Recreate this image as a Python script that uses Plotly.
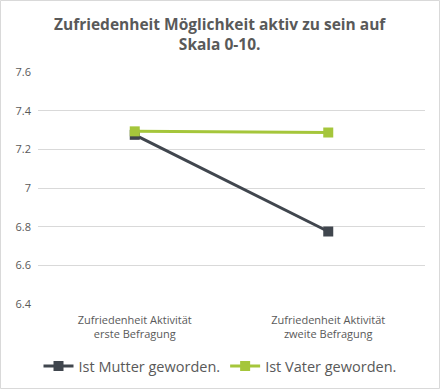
import plotly.graph_objects as go

categories = ["Zufriedenheit Aktivität<br>erste Befragung", "Zufriedenheit Aktivität<br>zweite Befragung"]
mutter = [7.275, 6.775]
vater = [7.293, 7.287]
series_names = ["Ist Mutter geworden.", "Ist Vater geworden."]
y_ticks = [6.4, 6.6, 6.8, 7.0, 7.2, 7.4, 7.6]
y_tick_labels = ["6.4", "6.6", "6.8", "7", "7.2", "7.4", "7.6"]

FONT = "Open Sans"
GREY = "#595959"
C_M = "#40464e"
C_V = "#a5c63b"

fig = go.Figure()
fig.add_trace(go.Scatter(x=categories, y=mutter, name=series_names[0], mode="lines+markers",
                         line=dict(color=C_M, width=3), marker=dict(symbol="square", size=10, color=C_M)))
fig.add_trace(go.Scatter(x=categories, y=vater, name=series_names[1], mode="lines+markers",
                         line=dict(color=C_V, width=3), marker=dict(symbol="square", size=10, color=C_V)))

W, H = 440, 389
L, R, T, B = 38, 15, 72, 85
pw, ph = W - L - R, H - T - B

fig.update_layout(
    width=W, height=H,
    margin=dict(l=L, r=R, t=T, b=B, autoexpand=False),
    paper_bgcolor="white", plot_bgcolor="white",
    font=dict(family=FONT, color=GREY),
    xaxis=dict(type="category", range=[-0.5, 1.5], showgrid=False, showline=False, zeroline=False,
               ticks="", tickfont=dict(size=11, color=GREY), fixedrange=True, ticklabelstandoff=8),
    yaxis=dict(range=[6.4, 7.6], tickvals=y_ticks, ticktext=y_tick_labels, showgrid=True,
               gridcolor="#d9d9d9", gridwidth=1, zeroline=False, showline=False, ticks="",
               tickfont=dict(size=11, color=GREY), ticklabelstandoff=6),
    legend=dict(orientation="h", x=(220 - L) / pw, xanchor="center", y=(ph - (366 - T)) / ph, yanchor="middle",
                font=dict(size=14.5, color=GREY), itemwidth=30, tracegroupgap=0),
    showlegend=True,
    annotations=[dict(text="<b>Zufriedenheit Möglichkeit aktiv zu sein auf<br>Skala 0-10.</b>",
                      xref="paper", yref="paper", x=(220 - L) / pw, y=(ph + T - 34) / ph,
                      xanchor="center", yanchor="middle", showarrow=False,
                      font=dict(family=FONT, size=15.5, color=GREY))],
    shapes=[dict(type="rect", xref="paper", yref="paper",
                 x0=(0.5 - L) / pw, x1=(W - 0.5 - L) / pw,
                 y0=-(B - 0.5) / ph, y1=(ph + T - 0.5) / ph,
                 line=dict(color="#d9d9d9", width=1), layer="below")],
)

fig.write_html("out.html", config={"displayModeBar": False},
               post_script="document.body.style.margin='0';document.body.style.overflow='hidden';")
